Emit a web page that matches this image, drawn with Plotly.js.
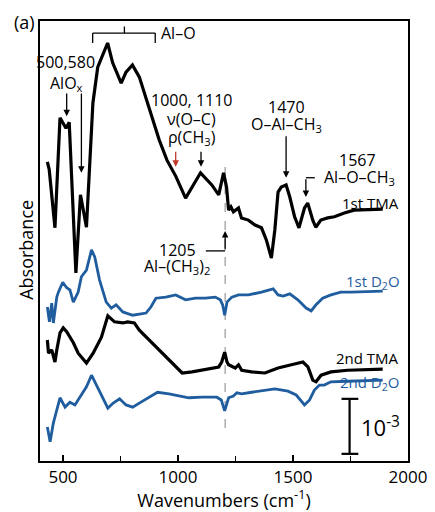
<!DOCTYPE html>
<html>
<head>
<meta charset="utf-8">
<script src="https://cdn.plot.ly/plotly-3.0.1.min.js"></script>
<style>html,body{margin:0;padding:0;background:#fff;}#chart{width:435px;height:512px;}</style>
</head>
<body>
<div id="chart"></div>
<script>
// Wavenumber (cm-1) and absorbance (units of 1e-3, traces offset vertically)
const tma1_x = [432,440,465,487,513,527,556,576,602,630,651,694,716,753,774,802,832,860,888,918,952,990,1033,1098,1147,1177,1198,1211,1220,1230,1241,1263,1276,1306,1335,1363,1384,1406,1421,1435,1449,1470,1486,1507,1526,1550,1564,1586,1599,1621,1651,1680,1723,1766,1890];
const tma1_y = [5.44,5.30,4.24,6.24,6.05,6.16,3.42,4.84,4.25,6.51,7.16,7.60,7.24,6.87,7.07,7.20,6.98,6.62,6.25,5.84,5.47,5.18,4.78,5.24,5.02,4.84,5.24,4.98,4.56,4.62,4.53,4.60,4.42,4.38,4.29,4.24,4.02,3.69,4.20,4.89,4.98,5.02,4.80,4.44,4.24,4.60,4.69,4.38,4.25,4.38,4.42,4.44,4.51,4.56,4.58];

const d2o1_x = [432,441,451,458,473,480,499,516,530,545,566,580,602,624,638,659,688,710,731,760,803,832,861,882,904,947,990,1033,1076,1119,1162,1184,1194,1203,1213,1234,1263,1306,1363,1414,1435,1457,1486,1521,1557,1579,1600,1629,1665,1708,1751,1890];
const d2o1_y = [2.80,2.53,2.87,2.51,2.98,3.07,3.25,3.15,3.11,2.89,3.07,3.35,3.47,3.84,3.71,3.29,2.89,2.78,2.84,2.71,2.65,2.67,2.69,2.80,2.96,2.98,3.02,2.93,2.96,2.96,2.98,2.93,2.84,2.65,2.89,2.98,3.02,3.02,3.07,3.13,3.02,3.00,3.04,2.93,2.78,2.73,2.84,2.96,3.02,3.07,3.07,3.09];

const tma2_x = [432,437,451,465,473,487,501,516,545,566,602,631,667,695,724,760,781,810,832,875,918,961,1004,1018,1061,1119,1177,1190,1203,1213,1220,1249,1263,1277,1320,1378,1435,1493,1543,1565,1586,1600,1622,1665,1737,1890];
const tma2_y = [2.20,1.96,2.02,1.80,2.02,2.33,2.42,2.35,2.15,1.96,1.78,1.96,2.25,2.64,2.53,2.51,2.53,2.51,2.38,2.20,2.02,1.84,1.65,1.60,1.62,1.67,1.71,1.80,1.98,1.80,1.75,1.69,1.75,1.65,1.62,1.60,1.69,1.75,1.80,1.71,1.47,1.44,1.56,1.62,1.65,1.67];

const d2o2_x = [432,444,458,473,487,509,530,552,580,602,624,645,674,695,717,746,774,803,839,875,911,961,1004,1047,1105,1169,1188,1203,1220,1241,1256,1277,1320,1378,1421,1478,1514,1550,1572,1593,1615,1636,1665,1737,1890];
const d2o2_y = [0.62,0.35,0.69,0.93,1.15,0.98,1.07,1.02,1.20,1.35,1.56,1.38,1.11,0.96,1.05,1.13,1.02,0.98,1.07,1.16,1.25,1.22,1.18,1.15,1.16,1.16,1.11,0.91,1.15,1.18,1.24,1.22,1.25,1.29,1.31,1.27,1.20,1.02,1.11,1.29,1.38,1.38,1.44,1.45,1.47];

const seriesNames = ["1st TMA","1st D<sub>2</sub>O","2nd TMA","2nd D<sub>2</sub>O"];
const xTicks = [500,1000,1500,2000];
const xTickText = ["500","1000","1500","2000"];

const BLACK = "#000000";
const BLUE = "#1f5d9f";
const FONT = "Open Sans, sans-serif";

const traces = [
  {x:tma1_x, y:tma1_y, mode:"lines", line:{color:BLACK, width:3.2}},
  {x:d2o1_x, y:d2o1_y, mode:"lines", line:{color:BLUE, width:2.8}},
  {x:tma2_x, y:tma2_y, mode:"lines", line:{color:BLACK, width:3.2}},
  {x:d2o2_x, y:d2o2_y, mode:"lines", line:{color:BLUE, width:2.8}}
];

function arrow(x, yHead, yTail, color){
  return {x:x, y:yHead, ax:x, ay:yTail, xref:"x", yref:"y", axref:"x", ayref:"y",
    text:"", showarrow:true, arrowhead:2, arrowsize:1, arrowwidth:1.3, arrowcolor:color||"#000"};
}
function label(x, y, text, opts){
  return Object.assign({x:x, y:y, xref:"x", yref:"y", text:text, showarrow:false,
    xanchor:"center", yanchor:"middle",
    font:{family:FONT, size:16, color:"#000"}}, opts||{});
}

const annotations = [
  {x:-0.043, y:0.998, xref:"paper", yref:"paper", xanchor:"center", yanchor:"middle", text:"(a)", showarrow:false, font:{family:FONT, size:18, color:"#000"}},
  label(918, 7.78, "Al\u2013O", {xanchor:"left"}),
  label(509, 7.25, "500,580"),
  label(515, 6.87, "AlO<sub>x</sub>"),
  arrow(516, 6.27, 6.71),
  arrow(580, 5.24, 6.71),
  label(1060, 6.56, "1000, 1110"),
  label(1060, 6.22, "\u03bd(O\u2013C)"),
  label(1060, 5.88, "\u03c1(CH<sub>3</sub>)"),
  arrow(990, 5.35, 5.65, "#c0392b"),
  arrow(1100, 5.35, 5.65),
  label(1470, 6.44, "1470"),
  label(1470, 6.11, "O\u2013Al\u2013CH<sub>3</sub>"),
  arrow(1470, 5.15, 5.93),
  label(1780, 5.47, "1567"),
  label(1790, 5.15, "Al\u2013O\u2013CH<sub>3</sub>"),
  arrow(1556, 4.80, 5.15),
  label(996, 3.84, "1205"),
  label(996, 3.53, "Al\u2013(CH<sub>3</sub>)<sub>2</sub>"),
  arrow(1205, 4.18, 3.82),
  label(1968, 4.69, seriesNames[0], {xanchor:"right", font:{family:FONT, size:15, color:BLACK}}),
  label(1972, 3.25, seriesNames[1], {xanchor:"right", font:{family:FONT, size:15, color:BLUE}}),
  label(1970, 1.87, seriesNames[2], {xanchor:"right", font:{family:FONT, size:15, color:BLACK}}),
  label(1970, 1.42, seriesNames[3], {xanchor:"right", font:{family:FONT, size:15, color:BLUE}}),
  label(1785, 0.62, "10<sup>-3</sup>", {xanchor:"left", font:{family:FONT, size:22, color:"#000"}}),
  {x:-0.038, y:0.48, xref:"paper", yref:"paper", xanchor:"center", yanchor:"middle", text:"Absorbance", textangle:-90, showarrow:false, font:{family:FONT, size:18, color:"#000"}}
];

const shapes = [
  // Al-O bracket
  {type:"line", xref:"x", yref:"y", x0:629, x1:901, y0:7.78, y1:7.78, line:{color:"#000", width:1.3}},
  {type:"line", xref:"x", yref:"y", x0:629, x1:629, y0:7.78, y1:7.60, line:{color:"#000", width:1.3}},
  {type:"line", xref:"x", yref:"y", x0:901, x1:901, y0:7.78, y1:7.60, line:{color:"#000", width:1.3}},
  {type:"line", xref:"x", yref:"y", x0:767, x1:767, y0:7.78, y1:7.90, line:{color:"#000", width:1.3}},
  // 1567 elbow
  {type:"line", xref:"x", yref:"y", x0:1556, x1:1595, y0:5.15, y1:5.15, line:{color:"#000", width:1.3}},
  // 1205 elbow
  {type:"line", xref:"x", yref:"y", x0:1121, x1:1205, y0:3.82, y1:3.82, line:{color:"#000", width:1.3}},
  // dashed marker at 1205
  {type:"line", xref:"x", yref:"y", x0:1205, x1:1205, y0:0.60, y1:5.44, line:{color:"#999", width:1.2, dash:"dash"}, layer:"below"},
  // scale bar
  {type:"line", xref:"x", yref:"y", x0:1746, x1:1746, y0:0.13, y1:1.13, line:{color:"#000", width:2.2}},
  {type:"line", xref:"x", yref:"y", x0:1711, x1:1784, y0:1.13, y1:1.13, line:{color:"#000", width:2.2}},
  {type:"line", xref:"x", yref:"y", x0:1711, x1:1784, y0:0.13, y1:0.13, line:{color:"#000", width:2.2}}
];

const layout = {
  width:435, height:512,
  margin:{l:40, r:27, t:21, b:51},
  paper_bgcolor:"#fff", plot_bgcolor:"#fff",
  showlegend:false,
  font:{family:FONT, color:"#000"},
  xaxis:{
    range:[400,2000], showgrid:false, zeroline:false,
    showline:true, linecolor:"#000", linewidth:2, mirror:true,
    tickvals:xTicks, ticktext:xTickText, ticks:"inside", ticklen:6, tickwidth:1.5, tickcolor:"#000",
    minor:{dtick:250, tick0:0, ticks:"inside", ticklen:5, tickwidth:1.5, tickcolor:"#000"},
    tickfont:{family:FONT, size:17, color:"#000"},
    title:{text:"Wavenumbers (cm<sup>-1</sup>)", font:{family:FONT, size:18, color:"#000"}, standoff:6}
  },
  yaxis:{
    range:[0,8], showgrid:false, zeroline:false, showticklabels:false, ticks:"",
    showline:true, linecolor:"#000", linewidth:2, mirror:true
  },
  shapes:shapes,
  annotations:annotations
};

Plotly.newPlot("chart", traces, layout, {displayModeBar:false, staticPlot:true});
</script>
</body>
</html>
